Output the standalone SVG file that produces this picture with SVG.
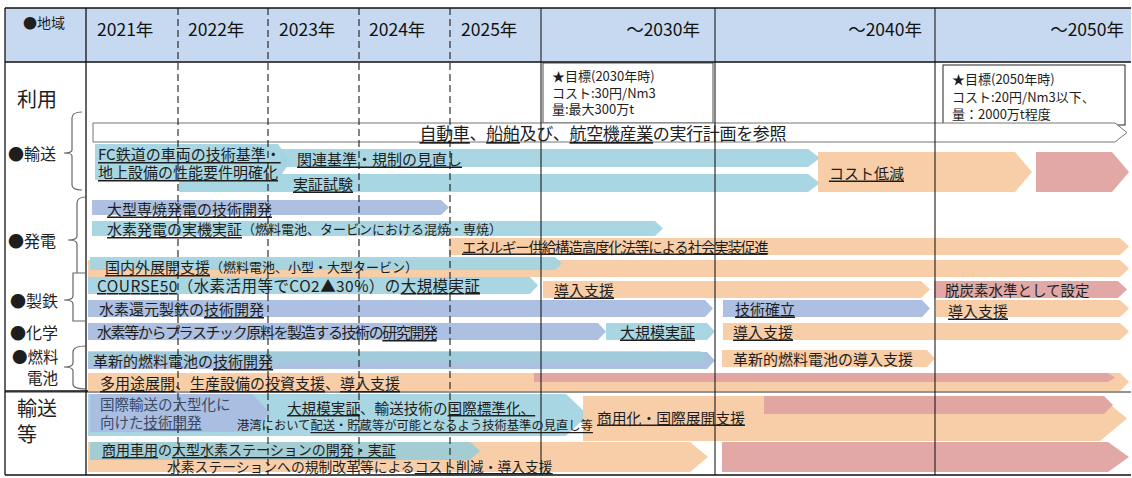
<svg xmlns="http://www.w3.org/2000/svg" width="1132" height="478" viewBox="0 0 1132 478">
<style>
.t{font-family:"Noto Sans CJK JP","Noto Sans CJK SC",sans-serif;font-size:15px;fill:#1e1e1e;dominant-baseline:central}
.h{font-size:17.5px;fill:#111}
.s{font-size:13px}
.p{font-size:13px}
.u{text-decoration:underline}
.lb{fill:#a3d4e0;fill-opacity:.95}
.sb{fill:#a9bddf;fill-opacity:.95}
.or{fill:#f8cba3;fill-opacity:.95}
.pk{fill:#dfa3a0;fill-opacity:.95}
.sol{stroke:#111;stroke-width:1.3;fill:none}
.dash{stroke:#111;stroke-width:1.3;stroke-dasharray:7 4;fill:none}
.br{stroke:#666;stroke-width:1.2;fill:none}
</style>
<rect width="1132" height="478" fill="#fff"/>
<g id="header">
<rect x="5" y="8" width="1126" height="54" fill="#c6d9f0"/>
<text class="t" x="23" y="22" style="font-size:14px">●地域</text>
<text class="t h" x="97" y="28">2021年</text>
<text class="t h" x="188" y="28">2022年</text>
<text class="t h" x="279" y="28">2023年</text>
<text class="t h" x="369" y="28">2024年</text>
<text class="t h" x="461" y="28">2025年</text>
<text class="t h" x="700" y="28" text-anchor="end">～2030年</text>
<text class="t h" x="922" y="28" text-anchor="end">～2040年</text>
<text class="t h" x="1124" y="28" text-anchor="end">～2050年</text>
</g>
<g id="targets">
<rect x="543" y="63" width="170" height="60" fill="#fff" stroke="#222" stroke-width="0.8"/>
<text class="t s" y="75"><tspan x="552">★目標(2030年時)</tspan><tspan x="552" dy="16.5">コスト:30円/Nm3</tspan><tspan x="552" dy="16.5">量:最大300万t</tspan></text>
<rect x="943" y="65" width="182" height="60" fill="#fff" stroke="#222" stroke-width="1"/>
<text class="t s" y="78"><tspan x="952">★目標(2050年時)</tspan><tspan x="952" dy="17.5">コスト:20円/Nm3以下、</tspan><tspan x="952" dy="17.5">量：2000万t程度</tspan></text>
</g>
<g id="bars">
<path d="M93 123 H1115 L1127 132.5 L1115 142 H93 Z" fill="#fff" stroke="#777" stroke-width="1"/>
<path class="lb" d="M280 149 H808 L820 158 L808 167 H280 Z"/>
<path class="lb" d="M179 174 H808 L820 183 L808 192 H179 Z"/>
<path class="lb" d="M95 144 H278 L290 162 L278 180 H95 Z"/>
<path class="or" d="M818 152 H1015 L1032 172 L1015 192 H818 Z"/>
<path class="pk" d="M1036 152 H1112 L1129 172 L1112 192 H1036 Z"/>
<path class="sb" d="M92 200 H441 L449 207.5 L441 215 H92 Z"/>
<path class="lb" d="M92 221 H655 L663 228.5 L655 236 H92 Z"/>
<path class="or" d="M449 238 H1120 L1129 246.5 L1120 255 H449 Z"/>
<path class="or" d="M88 260 H1120 L1129 268.5 L1120 277 H88 Z"/>
<path class="lb" d="M90 257 H555 L562 263.5 L555 270 H90 Z"/>
<path class="lb" d="M88 277 H530 L538 285.5 L530 294 H88 Z"/>
<path class="or" d="M543 281 H921 L930 289.5 L921 298 H543 Z"/>
<path class="pk" d="M934 281 H1118 L1127 289.5 L1118 298 H934 Z"/>
<path class="sb" d="M88 300 H705 L713 308.5 L705 317 H88 Z"/>
<path class="sb" d="M723 300 H922 L930 308.5 L922 317 H723 Z"/>
<path class="or" d="M936 300 H1120 L1129 308.5 L1120 317 H936 Z"/>
<path class="sb" d="M88 323 H598 L606 331.5 L598 340 H88 Z"/>
<path class="lb" d="M606 323 H707 L715 331.5 L707 340 H606 Z"/>
<path class="or" d="M723 323 H1120 L1129 331.5 L1120 340 H723 Z"/>
<path class="sb" d="M88 352 H707 L715 360.5 L707 369 H88 Z"/>
<path fill="#9dcfdc" fill-opacity=".7" d="M88 351 H700 L708 357 L700 363 H88 Z"/>
<path class="or" d="M722 350 H927 L935 358.5 L927 367 H722 Z"/>
<path class="or" d="M88 373 H1120 L1129 382 L1120 391 H88 Z"/>
<path class="pk" d="M534 373 H1108 L1115 377.5 L1108 382 H534 Z"/>
<path class="lb" d="M88 394 H566 L588 415 L566 436 H88 Z"/>
<path class="sb" d="M90 394 H252 L270 413 L252 432 H90 Z"/>
<path class="or" d="M583 396 H1100 L1127 418.5 L1100 441 H583 Z"/>
<path class="pk" d="M764 396 H1104 L1113 405 L1104 414 H764 Z"/>
<path class="or" d="M88 442 H690 L708 457 L690 472 H88 Z"/>
<path fill="#9fccd5" fill-opacity=".95" d="M90 442 H470 L480 451 L470 460 H90 Z"/>
<path class="pk" d="M722 442 H1108 L1129 457 L1108 472 H722 Z"/>
</g>
<g id="grid">
<line class="sol" x1="5" y1="8" x2="1131" y2="8"/>
<line class="sol" x1="5" y1="62" x2="1131" y2="62"/>
<line class="sol" x1="5" y1="391" x2="88" y2="391"/>
<line class="sol" x1="5" y1="392" x2="1131" y2="392" stroke-opacity=".6"/>
<line class="sol" x1="5" y1="475" x2="1131" y2="475" stroke="#444" stroke-width="2"/>
<line class="sol" x1="5" y1="8" x2="5" y2="475"/>
<line class="sol" x1="86" y1="8" x2="86" y2="475"/>
<line class="dash" x1="178" y1="8" x2="178" y2="475" stroke-opacity=".8"/>
<line class="dash" x1="268" y1="8" x2="268" y2="475" stroke-opacity=".8"/>
<line class="dash" x1="359" y1="8" x2="359" y2="475" stroke-opacity=".8"/>
<line class="dash" x1="450" y1="8" x2="450" y2="475" stroke-opacity=".8"/>
<line class="sol" x1="541" y1="8" x2="541" y2="475" stroke-opacity=".8"/>
<line class="sol" x1="715" y1="8" x2="715" y2="475" stroke-opacity=".8"/>
<line class="sol" x1="935" y1="8" x2="935" y2="475" stroke-opacity=".8"/>
</g>
<g id="brackets">
<path class="br" d="M82 112 Q72 112 72 118 V150 Q72 153 64 153 Q72 153 72 156 V185 Q72 190 82 190"/>
<path class="br" d="M86 197 Q77 197 77 203 V236 Q77 240 68 240 Q77 240 77 244 V273"/>
<path class="br" d="M86 273 H73 V296 Q73 300 64 300 Q73 300 73 304 V321 H86"/>
<path class="br" d="M86 346 Q73 346 73 352 V363 Q73 367 64 367 Q73 367 73 371 V384 Q73 389 86 389"/>
</g>
<g id="labels">
<text class="t" x="17" y="98" style="font-size:20px">利用</text>
<text class="t" x="8" y="153" style="font-size:16px">●輸送</text>
<text class="t" x="8" y="240" style="font-size:16px">●発電</text>
<text class="t" x="10" y="300" style="font-size:16px">●製鉄</text>
<text class="t" x="10" y="332" style="font-size:16px">●化学</text>
<text class="t" y="356" style="font-size:15.5px"><tspan x="12">●燃料</tspan><tspan x="27" dy="21">電池</tspan></text>
<text class="t" y="407" style="font-size:20px"><tspan x="17">輸送</tspan><tspan x="17" dy="26">等</tspan></text>
</g>
<g id="texts">
<text class="t" x="603" y="132" text-anchor="middle" style="font-size:17px" textLength="367" lengthAdjust="spacing"><tspan class="u">自動車</tspan>、<tspan class="u">船舶</tspan>及び、<tspan class="u">航空機産業</tspan>の実行計画を参照</text>
<text class="t u" y="153"><tspan x="98">FC鉄道の車両の技術基準・</tspan><tspan x="98" dy="18">地上設備の性能要件明確化</tspan></text>
<text class="t u" x="297" y="158">関連基準・規制の見直し</text>
<text class="t u" x="293" y="183">実証試験</text>
<text class="t u" x="829" y="172">コスト低減</text>
<text class="t u" x="107" y="208">大型専焼発電の技術開発</text>
<text class="t" x="107" y="228"><tspan class="u">水素発電の実機実証</tspan><tspan class="p">（燃料電池、タービンにおける混焼・専焼）</tspan></text>
<text class="t u" x="462" y="246" style="font-size:14.5px;letter-spacing:-1.2px">エネルギー供給構造高度化法等による社会実装促進</text>
<text class="t" x="105" y="266"><tspan class="u">国内外展開支援</tspan><tspan class="p">（燃料電池、小型・大型タービン）</tspan></text>
<text class="t" x="97" y="285" style="font-size:15.5px" textLength="383" lengthAdjust="spacing"><tspan class="u">COURSE50</tspan>（水素活用等でCO2▲30%）の<tspan class="u">大規模実証</tspan></text>
<text class="t u" x="554" y="289">導入支援</text>
<text class="t" x="945" y="289" style="font-size:14.5px">脱炭素水準として設定</text>
<text class="t" x="99" y="308">水素還元製鉄の<tspan class="u">技術開発</tspan></text>
<text class="t u" x="735" y="308">技術確立</text>
<text class="t u" x="948" y="310">導入支援</text>
<text class="t" x="97" y="331" style="letter-spacing:-1.4px">水素等からプラスチック原料を製造する技術の<tspan class="u">研究開発</tspan></text>
<text class="t u" x="620" y="331">大規模実証</text>
<text class="t u" x="733" y="331">導入支援</text>
<text class="t" x="93" y="360">革新的燃料電池の<tspan class="u">技術開発</tspan></text>
<text class="t" x="733" y="358">革新的燃料電池の導入支援</text>
<text class="t" x="100" y="382"><tspan class="u">多用途展開</tspan>、<tspan class="u">生産設備の投資支援</tspan>、<tspan class="u">導入支援</tspan></text>
<text class="t" y="403" style="font-size:14.5px;fill:#3a4a66"><tspan x="100">国際輸送の大型化に</tspan><tspan x="100" dy="18">向けた<tspan class="u">技術開発</tspan></tspan></text>
<text class="t" x="287" y="407" style="font-size:14.6px"><tspan class="u">大規模実証</tspan>、輸送技術の<tspan class="u">国際標準化、</tspan></text>
<text class="t" x="237" y="425" style="font-size:12.3px">港湾において<tspan class="u">配送・貯蔵等が可能となるよう技術基準の見直し等</tspan></text>
<text class="t u" x="597" y="417" style="font-size:14.8px">商用化・国際展開支援</text>
<text class="t" y="449"><tspan x="102" style="font-size:14px"><tspan class="u">商用車用</tspan>の<tspan class="u">大型水素ステーションの開発・実証</tspan></tspan><tspan x="167" dy="17" style="font-size:13.8px">水素ステーションへの規制改革等による<tspan class="u">コスト削減・導入支援</tspan></tspan></text>
</g>
</svg>
